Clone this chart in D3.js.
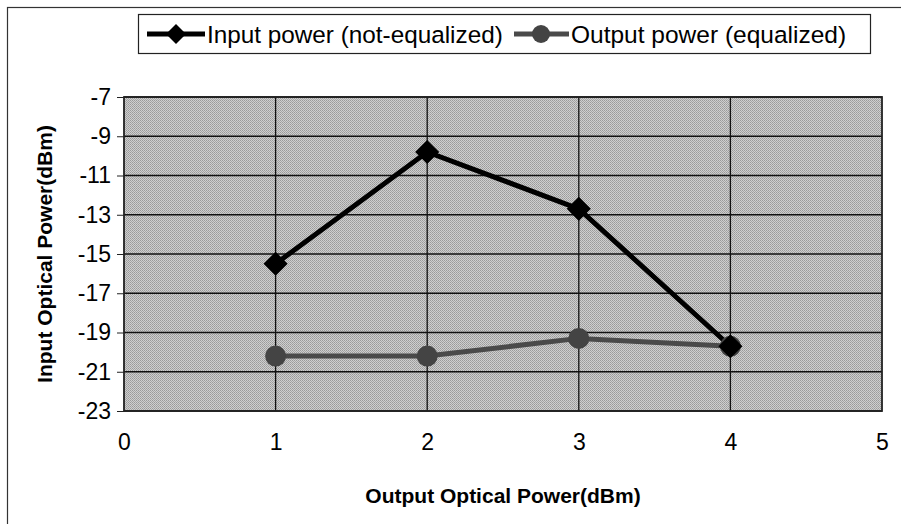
<!DOCTYPE html>
<html><head><meta charset="utf-8">
<script src="https://cdn.jsdelivr.net/npm/d3@7"></script>
<style>body{margin:0;background:#fff}svg{display:block}</style>
</head><body>
<svg id="c" width="901" height="524"></svg>
<script>
const xValues = [1, 2, 3, 4];
const inputPower = [-15.5, -9.8, -12.7, -19.7];
const outputPower = [-20.2, -20.2, -19.3, -19.7];
const xTicks = [0, 1, 2, 3, 4, 5];
const yTicks = [-7, -9, -11, -13, -15, -17, -19, -21, -23];
const seriesNames = ["Input power (not-equalized)", "Output power (equalized)"];

const svg = d3.select("#c");
const font = "Arial, 'Liberation Sans', sans-serif";
const L = 124, R = 882, T = 97, B = 411;
const x = d3.scaleLinear().domain([0, 5]).range([L, R]);
const y = d3.scaleLinear().domain([-23, -7]).range([B, T]);

// outer frame
svg.append("rect").attr("x", 7.5).attr("y", 7.5).attr("width", 900).attr("height", 530)
  .attr("fill", "none").attr("stroke", "#333").attr("stroke-width", 1.2);

// plot background with texture
const defs = svg.append("defs");
const pat = defs.append("pattern").attr("id", "tex").attr("patternUnits", "userSpaceOnUse")
  .attr("width", 2).attr("height", 2);
pat.append("rect").attr("width", 2).attr("height", 2).attr("fill", "#cfcfcf");
pat.append("rect").attr("width", 1).attr("height", 1).attr("fill", "#9a9a9a");
pat.append("rect").attr("x", 1).attr("y", 1).attr("width", 1).attr("height", 1).attr("fill", "#a6a6a6");
svg.append("rect").attr("x", L).attr("y", T).attr("width", R - L).attr("height", B - T)
  .attr("fill", "url(#tex)");

// grid
const g = svg.append("g");
g.selectAll(".hg").data(yTicks).join("line")
  .attr("x1", L).attr("x2", R).attr("y1", d => y(d)).attr("y2", d => y(d))
  .attr("stroke", "#111").attr("stroke-width", 1.3);
g.selectAll(".vg").data(xTicks.slice(1, -1)).join("line")
  .attr("y1", T).attr("y2", B).attr("x1", d => x(d)).attr("x2", d => x(d))
  .attr("stroke", "#111").attr("stroke-width", 1.3);
svg.append("rect").attr("x", L).attr("y", T).attr("width", R - L).attr("height", B - T)
  .attr("fill", "none").attr("stroke", "#222").attr("stroke-width", 1.8);

// axes
const ya = svg.append("g").attr("transform", `translate(${L},0)`)
  .call(d3.axisLeft(y).tickValues(yTicks).tickSize(7).tickPadding(6).tickFormat(d3.format("d")));
ya.select(".domain").remove();
ya.attr("font-size", 23).attr("font-family", font);
ya.selectAll("text").style("font-size", "23px").style("font-family", font).attr("fill", "#000")
  .text(d => String(d));
ya.selectAll("line").attr("stroke", "#222");

const xa = svg.append("g").attr("transform", `translate(0,${B})`)
  .call(d3.axisBottom(x).tickValues(xTicks).tickSize(0).tickPadding(23).tickFormat(d3.format("d")));
xa.select(".domain").remove();
xa.attr("font-size", 23).attr("font-family", font);
xa.selectAll("text").style("font-size", "23px").style("font-family", font).attr("fill", "#000");

// axis titles
svg.append("text").attr("x", (L + R) / 2).attr("y", 503).attr("text-anchor", "middle")
  .attr("font-family", font).attr("font-weight", "bold").attr("font-size", 21).text("Output Optical Power(dBm)");
svg.append("text").attr("transform", `translate(52,${(T + B) / 2}) rotate(-90)`).attr("text-anchor", "middle")
  .attr("font-family", font).attr("font-weight", "bold").attr("font-size", 21).text("Input Optical Power(dBm)");

// lines
const line = d3.line().x(d => x(d[0])).y(d => y(d[1]));
const inData = xValues.map((v, i) => [v, inputPower[i]]);
const outData = xValues.map((v, i) => [v, outputPower[i]]);
svg.append("path").datum(outData).attr("d", line).attr("fill", "none")
  .attr("stroke", "#4a4a4a").attr("stroke-width", 5);
svg.append("path").datum(inData).attr("d", line).attr("fill", "none")
  .attr("stroke", "#000").attr("stroke-width", 5);
svg.selectAll(".od").data(outData).join("circle")
  .attr("cx", d => x(d[0])).attr("cy", d => y(d[1])).attr("r", 10.5).attr("fill", "#444");
svg.selectAll(".id").data(inData).join("path")
  .attr("d", d3.symbol().type(d3.symbolSquare).size(290))
  .attr("transform", d => `translate(${x(d[0])},${y(d[1])}) rotate(45)`).attr("fill", "#000");

// legend
svg.append("rect").attr("x", 138.5).attr("y", 14.5).attr("width", 732).attr("height", 39)
  .attr("fill", "#fff").attr("stroke", "#222").attr("stroke-width", 1.2);
const ly = 34;
svg.append("line").attr("x1", 147).attr("x2", 205).attr("y1", ly).attr("y2", ly).attr("stroke", "#000").attr("stroke-width", 5);
svg.append("path").attr("d", d3.symbol().type(d3.symbolSquare).size(200)).attr("transform", `translate(176,${ly}) rotate(45)`).attr("fill", "#000");
svg.append("text").attr("x", 207).attr("y", ly + 9).attr("font-family", font).attr("font-size", 24.3).text(seriesNames[0]);
svg.append("line").attr("x1", 514).attr("x2", 569).attr("y1", ly).attr("y2", ly).attr("stroke", "#4a4a4a").attr("stroke-width", 5);
svg.append("circle").attr("cx", 541).attr("cy", ly).attr("r", 9).attr("fill", "#444");
svg.append("text").attr("x", 571).attr("y", ly + 9).attr("font-family", font).attr("font-size", 24.5).text(seriesNames[1]);
</script>
</body></html>
